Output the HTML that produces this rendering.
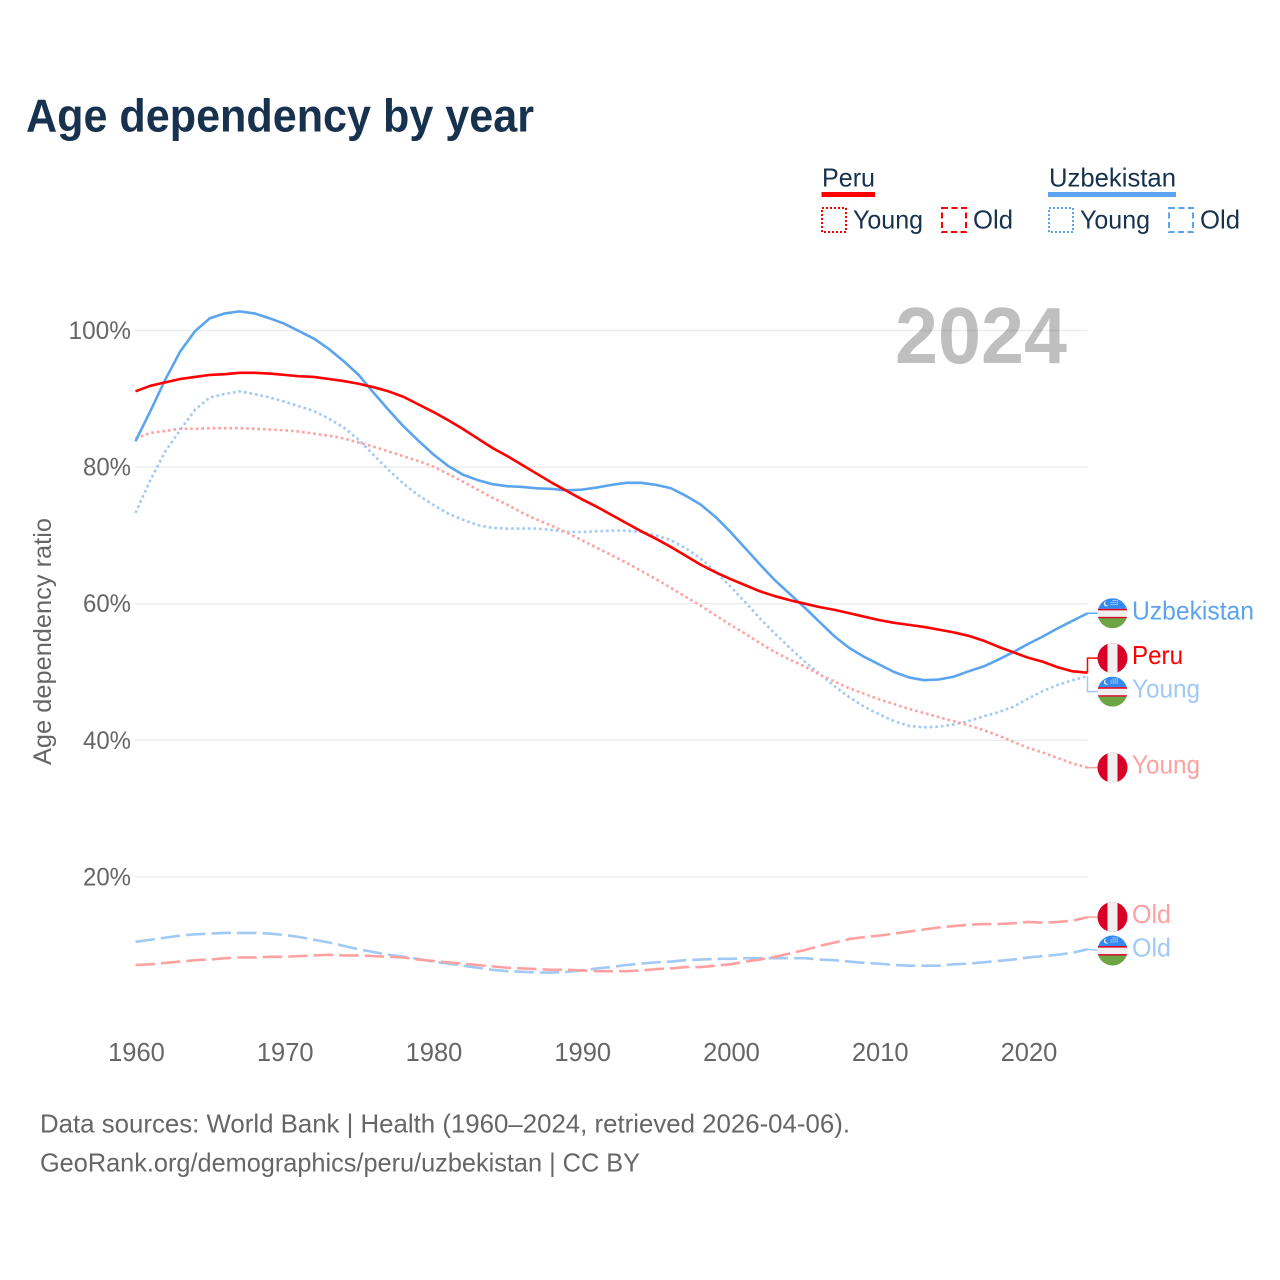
<!DOCTYPE html>
<html lang="en">
<head>
<meta charset="utf-8">
<title>Age dependency by year</title>
<style>
html,body{margin:0;padding:0;background:#fff;}
svg{display:block;}
text{font-family:"Liberation Sans",sans-serif;}
</style>
</head>
<body>
<svg id="chart" xmlns="http://www.w3.org/2000/svg" width="1280" height="1280" viewBox="0 0 1280 1280">
  <defs>
    <clipPath id="flag-clip"><circle cx="0" cy="0" r="15"/></clipPath>
    <g id="flag-peru" clip-path="url(#flag-clip)">
      <rect x="-15" y="-15" width="30" height="30" fill="#d80027"/>
      <rect x="-5" y="-15" width="10" height="30" fill="#f0f0f0"/>
    </g>
    <g id="flag-uzbekistan" clip-path="url(#flag-clip)">
      <rect x="-15" y="-15" width="30" height="11" fill="#338af3"/>
      <rect x="-15" y="-4.5" width="30" height="10" fill="#f0f0f0"/>
      <rect x="-15" y="-4.5" width="30" height="1.6" fill="#d80027"/>
      <rect x="-15" y="3.6" width="30" height="1.6" fill="#d80027"/>
      <rect x="-15" y="5" width="30" height="10" fill="#6da544"/>
      <circle cx="-6" cy="-9.5" r="2.6" fill="#f0f0f0"/>
      <circle cx="-5" cy="-10" r="2.3" fill="#338af3"/>
      <g fill="#f0f0f0">
        <rect x="-2" y="-9" width="7.5" height="0.8"/>
        <rect x="-2" y="-11" width="7.5" height="0.8"/>
        <rect x="0" y="-13" width="5.5" height="0.8"/>
      </g>
      <g fill="#338af3">
        <rect x="-0.7" y="-13.5" width="0.7" height="6"/>
        <rect x="1.3" y="-13.5" width="0.7" height="6"/>
        <rect x="3.3" y="-13.5" width="0.7" height="6"/>
      </g>
    </g>
  </defs>

  <rect x="0" y="0" width="1280" height="1280" fill="#ffffff"/>

  <text x="26" y="131.5" font-size="46" font-weight="700" fill="#17324f" textLength="508" lengthAdjust="spacingAndGlyphs">Age dependency by year</text>

  <g fill="#17324f" font-size="26">
    <text x="822" y="186.5" textLength="53" lengthAdjust="spacingAndGlyphs">Peru</text>
    <rect x="821.5" y="192" width="53.5" height="5" fill="#ff0000"/>
    <rect x="822" y="208" width="24" height="24" fill="none" stroke="#ff0000" stroke-width="2" stroke-dasharray="2 2"/>
    <text x="853" y="228.5" textLength="70" lengthAdjust="spacingAndGlyphs">Young</text>
    <rect x="942" y="208" width="24" height="24" fill="none" stroke="#ff0000" stroke-width="2" stroke-dasharray="6 3.5"/>
    <text x="973" y="228.5" textLength="40" lengthAdjust="spacingAndGlyphs">Old</text>

    <text x="1049" y="186.5" textLength="127" lengthAdjust="spacingAndGlyphs">Uzbekistan</text>
    <rect x="1048" y="192" width="128" height="5" fill="#5ba4ef"/>
    <rect x="1049" y="208" width="24" height="24" fill="none" stroke="#5ba4ef" stroke-width="2" stroke-dasharray="2 2"/>
    <text x="1080" y="228.5" textLength="70" lengthAdjust="spacingAndGlyphs">Young</text>
    <rect x="1169" y="208" width="24" height="24" fill="none" stroke="#5ba4ef" stroke-width="2" stroke-dasharray="6 3.5"/>
    <text x="1200" y="228.5" textLength="40" lengthAdjust="spacingAndGlyphs">Old</text>
  </g>

  <text transform="translate(51,765) rotate(-90)" x="0" y="0" font-size="25" fill="#666666" textLength="247" lengthAdjust="spacingAndGlyphs">Age dependency ratio</text>

  <g id="grid"></g>
  <g id="y-ticks"></g>
  <g id="x-ticks"></g>

  <text x="895" y="363" font-size="80" font-weight="700" fill="#000000" fill-opacity="0.25" textLength="172" lengthAdjust="spacingAndGlyphs">2024</text>

  <g id="series"></g>
  <g id="end-labels"></g>

  <text x="40" y="1132.5" font-size="26" fill="#666666" textLength="810" lengthAdjust="spacingAndGlyphs">Data sources: World Bank | Health (1960–2024, retrieved 2026-04-06).</text>
  <text x="40" y="1171.5" font-size="26" fill="#666666" textLength="600" lengthAdjust="spacingAndGlyphs">GeoRank.org/demographics/peru/uzbekistan | CC BY</text>
</svg>

<script>
const startYear = 1960;
const xTicks = [1960, 1970, 1980, 1990, 2000, 2010, 2020];
const yTicks = [20, 40, 60, 80, 100];

const peruTotal = [91.1,91.9,92.4,92.9,93.2,93.5,93.6,93.8,93.8,93.7,93.5,93.3,93.2,92.9,92.6,92.2,91.7,91.1,90.3,89.2,88.1,86.9,85.6,84.2,82.8,81.6,80.3,79.0,77.7,76.5,75.3,74.2,73.0,71.8,70.6,69.5,68.3,67.0,65.7,64.6,63.6,62.7,61.8,61.1,60.5,60.0,59.5,59.1,58.6,58.1,57.6,57.2,56.9,56.6,56.2,55.8,55.3,54.6,53.7,52.9,52.1,51.5,50.7,50.1,49.9];
const uzbekistanTotal = [83.8,88.2,92.8,96.9,99.9,101.8,102.5,102.8,102.5,101.8,101.0,99.9,98.8,97.3,95.5,93.5,90.9,88.4,86.0,83.9,81.9,80.2,78.9,78.1,77.5,77.2,77.1,76.9,76.8,76.6,76.7,77.0,77.4,77.7,77.7,77.4,76.9,75.8,74.5,72.7,70.5,68.1,65.7,63.4,61.4,59.4,57.3,55.2,53.5,52.2,51.1,50.0,49.2,48.8,48.9,49.3,50.1,50.8,51.8,52.9,54.1,55.2,56.4,57.5,58.6];
const peruYoung = [84.2,85.0,85.3,85.6,85.6,85.7,85.7,85.7,85.6,85.5,85.4,85.2,84.9,84.6,84.2,83.6,83.0,82.3,81.6,80.9,80.1,79.0,77.9,76.7,75.5,74.5,73.3,72.3,71.4,70.4,69.3,68.2,67.1,66.0,64.8,63.6,62.3,61.0,59.7,58.3,56.9,55.6,54.2,52.9,51.8,50.8,49.6,48.6,47.6,46.8,46.0,45.3,44.6,44.0,43.4,42.8,42.2,41.5,40.7,39.8,38.9,38.2,37.4,36.6,36.0];
const uzbekistanYoung = [73.3,78.1,82.3,85.4,88.4,90.2,90.7,91.1,90.7,90.2,89.6,88.9,88.2,87.1,85.8,84.0,81.8,79.6,77.6,75.9,74.5,73.2,72.3,71.5,71.1,71.0,71.0,71.0,70.8,70.5,70.5,70.6,70.7,70.7,70.5,70.0,69.3,68.1,66.6,64.7,62.5,60.2,57.8,55.6,53.5,51.5,49.7,47.9,46.3,44.9,43.8,42.8,42.1,41.9,42.0,42.3,42.8,43.5,44.1,44.9,46.1,47.2,48.1,48.8,49.4];
const peruOld = [7.1,7.2,7.4,7.6,7.8,7.9,8.1,8.2,8.2,8.3,8.3,8.4,8.5,8.6,8.5,8.5,8.4,8.3,8.2,7.9,7.7,7.5,7.3,7.1,6.9,6.7,6.6,6.5,6.4,6.4,6.3,6.2,6.2,6.2,6.3,6.5,6.6,6.8,6.8,7.0,7.2,7.6,7.9,8.3,8.8,9.3,9.9,10.4,10.9,11.2,11.4,11.7,12.0,12.3,12.6,12.8,13.0,13.1,13.1,13.2,13.4,13.3,13.4,13.6,14.1];
const uzbekistanOld = [10.5,10.8,11.1,11.4,11.6,11.7,11.8,11.8,11.8,11.7,11.5,11.2,10.8,10.4,9.9,9.4,9.0,8.6,8.3,8.0,7.6,7.3,7.0,6.7,6.4,6.2,6.1,6.0,6.0,6.1,6.3,6.6,6.8,7.1,7.3,7.5,7.6,7.8,7.9,8.0,8.0,8.1,8.1,8.1,8.1,8.1,7.9,7.8,7.6,7.4,7.3,7.1,7.0,7.0,7.0,7.2,7.3,7.5,7.7,7.9,8.2,8.4,8.6,8.9,9.4];

const NS = 'http://www.w3.org/2000/svg';
const RED = '#ff0000', BLUE = '#5ba4ef', PINK = '#ffa1a1', SKY = '#a0c9f6';

function xScale(year) { return 135.5 + (year - 1960) * 14.875; }
function yScale(value) { return 1013.5 - value * 6.83; }

function make(tag, attrs, parent) {
  const el = document.createElementNS(NS, tag);
  Object.keys(attrs).forEach(function (k) { el.setAttribute(k, attrs[k]); });
  parent.appendChild(el);
  return el;
}

const gridGroup = document.getElementById('grid');
const yTickGroup = document.getElementById('y-ticks');
const xTickGroup = document.getElementById('x-ticks');
const seriesGroup = document.getElementById('series');
const labelGroup = document.getElementById('end-labels');

yTicks.forEach(function (t) {
  const line = make('line', { x1: 135, x2: 1087.5, y1: yScale(t), y2: yScale(t), stroke: '#ececec', 'stroke-width': 1.4 }, gridGroup);
  
  
  const text = t + '%';
  const label = make('text', { x: 131, y: yScale(t) + 8.5, 'text-anchor': 'end', 'font-size': 25, fill: '#666666', textLength: 19 + (text.length - 1) * 14.5, lengthAdjust: 'spacingAndGlyphs' }, yTickGroup);
  label.textContent = text;
  
  
});

xTicks.forEach(function (t) {
  const label = make('text', { x: xScale(t) + 1, y: 1061, 'text-anchor': 'middle', 'font-size': 25.5, fill: '#666666' }, xTickGroup);
  label.textContent = String(t);
  
  
});

function linePath(values) {
  return values.map(function (v, i) {
    return (i ? 'L' : 'M') + xScale(startYear + i).toFixed(2) + ' ' + yScale(v).toFixed(2);
  }).join(' ');
}

function drawLine(values, color, dash, name) {
  const attrs = { d: linePath(values), fill: 'none', stroke: color, 'stroke-width': 2.6, 'stroke-linejoin': 'round' };
  if (dash) attrs['stroke-dasharray'] = dash;
  const path = make('path', attrs, seriesGroup);
  
  
}

drawLine(uzbekistanOld, SKY, '19.5 6', 'line-uzbekistan-old');
drawLine(peruOld, PINK, '19.5 6', 'line-peru-old');
drawLine(uzbekistanYoung, SKY, '2.6 3', 'line-uzbekistan-young');
drawLine(peruYoung, PINK, '2.6 3', 'line-peru-young');
drawLine(uzbekistanTotal, BLUE, '', 'line-uzbekistan-total');
drawLine(peruTotal, RED, '', 'line-peru-total');

const endLabels = [
  { text: 'Uzbekistan', flag: 'flag-uzbekistan', values: uzbekistanTotal, color: BLUE, width: 122, slug: 'uzbekistan-total' },
  { text: 'Peru', flag: 'flag-peru', values: peruTotal, color: RED, width: 51, slug: 'peru-total' },
  { text: 'Young', flag: 'flag-uzbekistan', values: uzbekistanYoung, color: SKY, width: 68, slug: 'uzbekistan-young' },
  { text: 'Young', flag: 'flag-peru', values: peruYoung, color: PINK, width: 68, slug: 'peru-young' },
  { text: 'Old', flag: 'flag-peru', values: peruOld, color: PINK, width: 39, slug: 'peru-old' },
  { text: 'Old', flag: 'flag-uzbekistan', values: uzbekistanOld, color: SKY, width: 39, slug: 'uzbekistan-old' }
];

/* Collision dodge: labels closer than the flag height spread around their mean. */
const minGap = 33.5;
const placed = endLabels.map(function (d) {
  const y = yScale(d.values[d.values.length - 1]);
  return Object.assign({}, d, { y0: y, y: y });
}).sort(function (a, b) { return a.y0 - b.y0; });

let i = 0;
while (i < placed.length) {
  let j = i;
  while (j + 1 < placed.length && placed[j + 1].y0 - placed[j].y0 < minGap) j++;
  if (j > i) {
    let sum = 0;
    for (let k = i; k <= j; k++) sum += placed[k].y0;
    const mean = sum / (j - i + 1);
    for (let k = i; k <= j; k++) placed[k].y = mean + 0.5 + (k - (i + j) / 2) * minGap;
  }
  i = j + 1;
}

placed.forEach(function (d) {
  const xEnd = xScale(2024);
  const pts = Math.abs(d.y - d.y0) > 2
    ? 'M' + xEnd + ' ' + d.y0 + ' V' + d.y + ' H1098'
    : 'M' + xEnd + ' ' + d.y0 + ' L1098 ' + d.y;
  const conn = make('path', { d: pts, fill: 'none', stroke: d.color, 'stroke-width': 1.5 }, labelGroup);
  
  

  const flag = make('use', { href: '#' + d.flag, transform: 'translate(1112.5,' + d.y + ')' }, labelGroup);
  
  

  const label = make('text', { x: 1132, y: d.y + 6, 'font-size': 26, fill: d.color, textLength: d.width, lengthAdjust: 'spacingAndGlyphs' }, labelGroup);
  label.textContent = d.text;
  
  
});
</script>
</body>
</html>
